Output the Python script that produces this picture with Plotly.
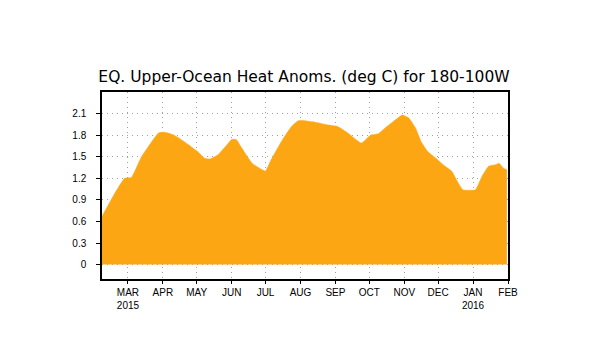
import plotly.graph_objects as go

dates = ["2015-02-06", "2015-02-14", "2015-02-26", "2015-03-04", "2015-03-13", "2015-03-19",
         "2015-03-28", "2015-03-31", "2015-04-03", "2015-04-11", "2015-04-20", "2015-05-02",
         "2015-05-08", "2015-05-13", "2015-05-20", "2015-05-28", "2015-06-01", "2015-06-05",
         "2015-06-10", "2015-06-19", "2015-06-28", "2015-07-01", "2015-07-06", "2015-07-15",
         "2015-07-24", "2015-07-30", "2015-08-05", "2015-08-14", "2015-08-26", "2015-09-03",
         "2015-09-12", "2015-09-24", "2015-10-02", "2015-10-09", "2015-10-15", "2015-10-24",
         "2015-10-30", "2015-11-05", "2015-11-11", "2015-11-16", "2015-11-22", "2015-11-29",
         "2015-12-07", "2015-12-13", "2015-12-19", "2015-12-23", "2016-01-03", "2016-01-09",
         "2016-01-15", "2016-01-21", "2016-01-24", "2016-01-28", "2016-01-31"]
values = [0.67, 0.90, 1.20, 1.21, 1.50, 1.64,
          1.83, 1.84, 1.84, 1.80, 1.71, 1.57,
          1.48, 1.47, 1.53, 1.67, 1.74, 1.74,
          1.62, 1.41, 1.32, 1.30, 1.46, 1.71,
          1.92, 2.00, 2.00, 1.98, 1.94, 1.92,
          1.83, 1.69, 1.80, 1.82, 1.90, 2.01,
          2.08, 2.04, 1.90, 1.71, 1.57, 1.48,
          1.37, 1.30, 1.13, 1.04, 1.04, 1.23,
          1.37, 1.39, 1.41, 1.34, 1.32]

month_ticks = ["2015-03-01", "2015-04-01", "2015-05-01", "2015-06-01", "2015-07-01", "2015-08-01",
               "2015-09-01", "2015-10-01", "2015-11-01", "2015-12-01", "2016-01-01", "2016-02-01"]
month_labels = ["MAR<br>2015", "APR", "MAY", "JUN", "JUL", "AUG", "SEP", "OCT", "NOV", "DEC",
                "JAN<br>2016", "FEB"]
y_ticks = [0, 0.3, 0.6, 0.9, 1.2, 1.5, 1.8, 2.1]
y_labels = ["0", "0.3", "0.6", "0.9", "1.2", "1.5", "1.8", "2.1"]
title_text = "EQ. Upper-Ocean Heat Anoms. (deg C) for 180-100W"

W, H = 600, 350

fig = go.Figure()
fig.add_trace(go.Scatter(
    x=dates, y=values, mode="lines", fill="tozeroy",
    line=dict(color="rgb(252,166,20)", width=0.5, shape="spline", smoothing=0.4),
    fillcolor="rgb(252,166,20)", hoverinfo="skip",
))

fig.update_layout(
    width=W, height=H,
    margin=dict(l=94, r=W - 500, t=84, b=H - 271.4),
    paper_bgcolor="white", plot_bgcolor="white",
    showlegend=False,
    font=dict(family="Liberation Sans, Arial, sans-serif", color="black"),
    title=dict(text=title_text, x=296 / W, xanchor="center", xref="container",
               y=1 - 69 / H, yanchor="middle", yref="container",
               font=dict(family="DejaVu Sans", size=15.5, color="black")),
)
fig.update_xaxes(
    range=["2015-02-06", "2016-02-01"],
    tickmode="array", tickvals=month_ticks, ticktext=month_labels,
    tickfont=dict(size=10), ticks="outside", ticklen=3, tickcolor="black",
    showgrid=True, gridcolor="#a0a0a0", griddash="1px,4px", gridwidth=1,
    showline=True, linecolor="black", linewidth=1.5, mirror=True,
    zeroline=False,
)
fig.update_yaxes(
    range=[-0.2, 2.4],
    tickmode="array", tickvals=y_ticks, ticktext=y_labels,
    tickfont=dict(size=10), ticks="outside", ticklen=4, tickcolor="black",
    ticklabelstandoff=8,
    showgrid=True, gridcolor="#a0a0a0", griddash="1px,4px", gridwidth=1,
    showline=True, linecolor="black", linewidth=1.5, mirror=True,
    zeroline=False,
)

fig.write_html("out.html")
